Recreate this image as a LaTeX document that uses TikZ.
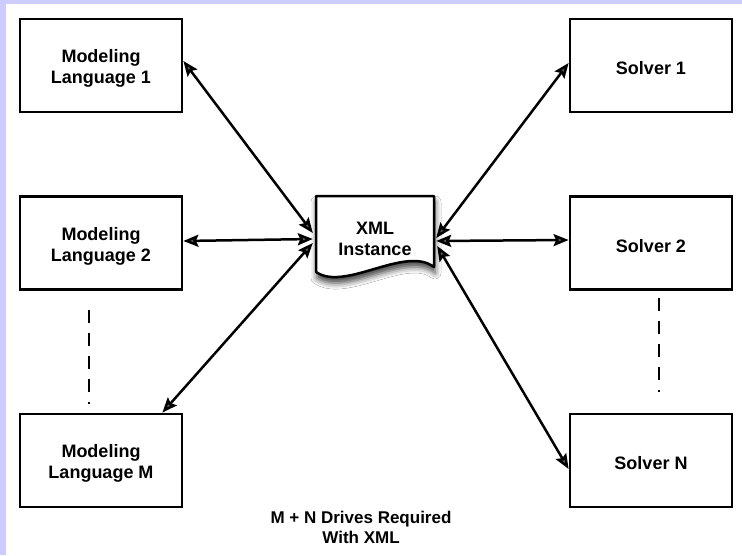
\documentclass[tikz,border=0pt]{standalone}
\usepackage{fontspec}
\setmainfont{Liberation Sans}
\usetikzlibrary{arrows.meta,calc,shadows.blur}
\definecolor{framelav}{RGB}{204,204,255}
% extra head room above the first line of a box label
\newcommand{\headroom}{\rule{0pt}{19pt}}
\tikzset{
  unit/.style={draw, line width=2.8pt, minimum width=162pt, minimum height=93pt,
    align=center, inner sep=0pt, font=\bfseries\fontsize{18}{21}\selectfont},
  link/.style={line width=2.5pt,
    {Stealth[length=15pt,width=12pt,inset=2.5pt]}-{Stealth[length=15pt,width=12pt,inset=2.5pt]}},
  gap/.style={line width=2.5pt, dash pattern=on 13pt off 10pt},
  caption/.style={align=center, font=\bfseries\fontsize{17}{20}\selectfont},
}
\begin{document}
\begin{tikzpicture}[x=1pt,y=-1pt]
  % frame
  \fill[framelav] (0,0) rectangle (742,555);
  \fill[white] (6,4) rectangle (742,555);
  \useasboundingbox (0,0) rectangle (742,555);

  % modeling languages
  \node[unit] (ml1) at (101,65.5) {\headroom Modeling\\Language 1};
  \node[unit] (ml2) at (101,243) {\headroom Modeling\\Language 2};
  \node[unit] (mlm) at (101,460.5) {\headroom Modeling\\Language M};

  % solvers
  \node[unit] (s1) at (651,65.5) {\headroom Solver 1};
  \node[unit] (s2) at (651,243) {\headroom Solver 2};
  \node[unit] (sn) at (651,460.5) {\headroom Solver N};

  % XML instance document
  \path[draw, fill=white, line width=2.5pt, line join=round,
        blur shadow={shadow xshift=1pt, shadow yshift=-6pt, shadow blur radius=6pt, shadow opacity=75}]
    (316,196) -- (434,196) -- (434,267)
    .. controls (405,245) and (345,292) .. (316,272) -- cycle;
  \node[align=center, inner sep=0pt, minimum width=118pt, minimum height=60pt,
        font=\bfseries\fontsize{18}{21}\selectfont] (xml) at (375,239) {XML\\Instance};

  % links
  \draw[link] ($(ml1.east)+(0,-4.5)$) -- ($(xml.west)+(-3,-6)$);
  \draw[link] ($(ml2.east)+(0,-2)$) -- ($(xml.west)+(-3,0)$);
  \draw[link] ($(mlm.north east)+(-21,0)$) -- ($(xml.west)+(-3,4)$);
  \draw[link] ($(xml.east)+(2,-1)$) -- ($(s1.west)+(0,-2.5)$);
  \draw[link] ($(xml.east)+(2,2)$) -- ($(s2.west)+(0,-3)$);
  \draw[link] ($(xml.east)+(3,7)$) -- ($(sn.west)+(0,8.5)$);

  % elision marks
  \coordinate (la) at (89,310);
  \coordinate (lb) at (89,404);
  \coordinate (ra) at (659,298);
  \coordinate (rb) at (659,392);
  \draw[gap] (la) -- (lb);
  \draw[gap] (ra) -- (rb);

  % caption
  \node[caption] (note) at (361,527) {M + N Drives Required\\With XML};
\end{tikzpicture}
\end{document}
